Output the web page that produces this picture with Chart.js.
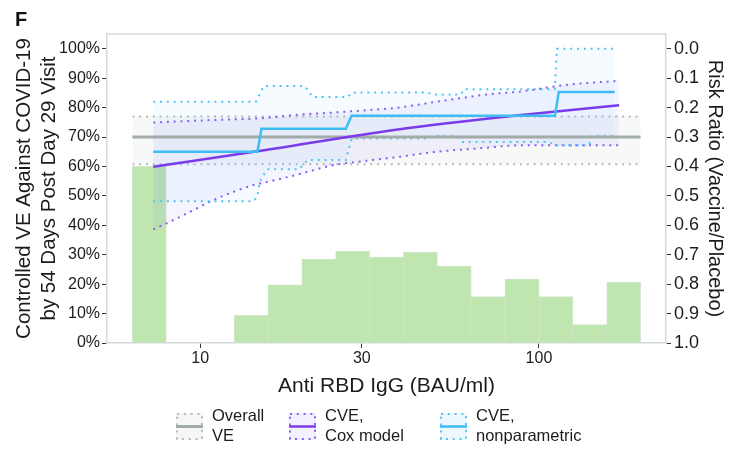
<!DOCTYPE html>
<html lang="en">
<head>
<meta charset="UTF-8">
<title>Controlled VE by Anti RBD IgG</title>
<script src="https://cdn.jsdelivr.net/npm/chart.js"></script>
<style>
    html, body { margin: 0; padding: 0; background: #fff; }
    .wrap { position: relative; width: 742px; height: 449px; }
</style>
</head>
<body>
<div class="wrap"><canvas id="veChart" width="742" height="449"></canvas></div>
<script>
// Histogram of Day 29 antibody levels: bin edges (BAU/ml) and bar heights (%)
const binEdges = [6.31, 7.94, 10.0, 12.59, 15.85, 19.95, 25.12, 31.62, 39.81, 50.12, 63.10, 79.43, 100.0, 125.9, 158.5, 199.5];
const binHeights = [60, 0, 0, 9.4, 19.8, 28.5, 31.2, 29.2, 30.8, 26.1, 15.8, 21.7, 15.8, 6.3, 20.6];

// Overall VE and its confidence limits (%)
const overallVE = 70;
const overallLow = 60.7;
const overallHigh = 77;

// CVE, Cox model
const coxX = [7.27, 15.62, 37.81, 88.47, 172.4];
const coxVE = [59.9, 65.6, 72.5, 77.5, 80.8];
const coxHighX = [7.27, 9.38, 11.73, 14.79, 19.54, 24.63, 30.83, 37.81, 51.34, 72.16, 87.27, 122.6, 172.4];
const coxHigh = [74.9, 75.5, 75.9, 76.3, 77.6, 78.3, 79.1, 79.9, 82.2, 84.6, 85.4, 87.8, 89.1];
const coxLowX = [7.27, 8.35, 9.57, 10.96, 12.56, 14.39, 15.62, 17.89, 20.5, 24.63, 30.83, 37.81, 48.95, 66.04, 88.47, 172.4];
const coxLow = [38.6, 41.8, 45.2, 48.6, 51.4, 53.7, 54.6, 56.2, 58.0, 60.4, 61.9, 63.1, 64.9, 66.1, 67.2, 67.2];

// CVE, nonparametric
const npX = [7.27, 14.76, 15.17, 26.91, 27.98, 111.5, 114.4, 167.3];
const npVE = [65.0, 65.0, 72.8, 72.8, 77.2, 77.2, 85.3, 85.3];
const npHighX = [7.27, 14.6, 15.4, 20.36, 21.49, 27.28, 28.03, 46.99, 48.62, 58.83, 60.04, 111.3, 113.0, 167.3];
const npHigh = [82.0, 82.0, 87.3, 87.3, 83.6, 83.6, 85.1, 85.1, 84.4, 84.4, 86.2, 86.2, 100, 100];
const npLowX = [7.27, 14.39, 14.76, 14.99, 15.75, 19.54, 20.78, 26.91, 28.03, 46.99, 48.62, 56.85, 59.6, 107.0, 113.0, 140.5, 143.4, 167.3];
const npLow = [48.2, 48.2, 49.9, 54.8, 59.0, 59.0, 62.2, 62.2, 69.5, 69.5, 70.3, 70.3, 68.3, 68.3, 67.1, 67.1, 70.3, 70.3];

// Axis ticks
const xTicks = [10, 30, 100];
const veTicks = [0, 10, 20, 30, 40, 50, 60, 70, 80, 90, 100];
const rrTicks = [0, 0.1, 0.2, 0.3, 0.4, 0.5, 0.6, 0.7, 0.8, 0.9, 1.0];

const legendLabels = [['Overall', 'VE'], ['CVE,', 'Cox model'], ['CVE,', 'nonparametric']];

// colours
const barGreen = '#bee6ae';
const grayLine = '#a1aba7';
const grayDots = '#b4bcb8';
const grayFill = 'rgba(190,200,195,0.12)';
const coxLine = '#7c3aed';
const coxDots = '#8b5cf6';
const coxFill = 'rgba(120,100,255,0.07)';
const npLine = '#3dbdf2';
const npDots = '#52c4f2';
const npFill = 'rgba(90,190,250,0.06)';
const panelBorder = '#d3dbd7';

const pts = (xs, ys) => xs.map((x, i) => ({ x: x, y: ys[i] }));
const binCenters = binHeights.map((_, i) => Math.sqrt(binEdges[i] * binEdges[i + 1]));

// log axis padded 5% of the histogram range on each side
const logSpan = Math.log10(binEdges[binEdges.length - 1] / binEdges[0]);
const xMin = binEdges[0] / Math.pow(10, 0.05 * logSpan);
const xMax = binEdges[binEdges.length - 1] * Math.pow(10, 0.05 * logSpan);

const dotted = [2, 4.8];

function bandLine(data, color, fill, bg, order) {
    return {
        type: 'line', data: data, borderColor: color, borderWidth: 2, borderDash: dotted,
        pointRadius: 0, fill: fill, backgroundColor: bg, order: order, tension: 0
    };
}

Chart.defaults.font.family = '"Liberation Sans", Arial, sans-serif';
Chart.defaults.color = '#1c1c1c';

const panelExtras = {
    id: 'panelExtras',
    beforeDatasetsDraw(chart) {
        const { ctx, chartArea: a } = chart;
        ctx.save();
        ctx.strokeStyle = panelBorder;
        ctx.lineWidth = 1.5;
        ctx.beginPath();
        ctx.moveTo(a.left, a.top);
        ctx.lineTo(a.right, a.top);
        ctx.stroke();
        ctx.restore();
    },
    afterDraw(chart) {
        const ctx = chart.ctx;
        ctx.save();
        ctx.fillStyle = '#111';
        ctx.font = 'bold 20px "Liberation Sans", Arial, sans-serif';
        ctx.textBaseline = 'alphabetic';
        ctx.fillText('F', 15, 26);

        // legend: dotted key box with band fill and the centre line
        const keys = [
            { line: grayLine, dots: grayDots, fill: 'rgba(190,200,195,0.16)', width: 3 },
            { line: coxLine, dots: coxDots, fill: 'rgba(120,100,255,0.09)', width: 2.5 },
            { line: npLine, dots: npDots, fill: 'rgba(90,190,250,0.11)', width: 2.5 }
        ];
        const keyX = [176, 289, 440];
        const top = 413, size = 27;
        ctx.font = '16.5px "Liberation Sans", Arial, sans-serif';
        keys.forEach((k, i) => {
            const x = keyX[i];
            ctx.fillStyle = k.fill;
            ctx.fillRect(x, top, size, size);
            ctx.setLineDash(dotted);
            ctx.lineWidth = 2;
            ctx.strokeStyle = k.dots;
            ctx.strokeRect(x + 1, top + 1, size - 2, size - 2);
            ctx.setLineDash([]);
            ctx.lineWidth = k.width;
            ctx.strokeStyle = k.line;
            ctx.beginPath();
            ctx.moveTo(x, top + size / 2);
            ctx.lineTo(x + size, top + size / 2);
            ctx.stroke();
            ctx.fillStyle = '#1c1c1c';
            ctx.fillText(legendLabels[i][0], x + size + 9, 421);
            ctx.fillText(legendLabels[i][1], x + size + 9, 441);
        });
        ctx.restore();
    }
};

new Chart(document.getElementById('veChart'), {
    type: 'line',
    data: {
        datasets: [
            {
                type: 'bar', data: pts(binCenters, binHeights), backgroundColor: barGreen,
                borderColor: 'rgba(150,200,140,0.45)', borderWidth: 1,
                barPercentage: 1, categoryPercentage: 1, order: 10
            },
            bandLine(pts([binEdges[0], binEdges[binEdges.length - 1]], [overallHigh, overallHigh]), grayDots, 2, grayFill, 9),
            bandLine(pts([binEdges[0], binEdges[binEdges.length - 1]], [overallLow, overallLow]), grayDots, false, grayFill, 9),
            Object.assign(bandLine(pts(coxHighX, coxHigh), coxDots, 4, coxFill, 8), { cubicInterpolationMode: 'monotone' }),
            Object.assign(bandLine(pts(coxLowX, coxLow), coxDots, false, coxFill, 8), { cubicInterpolationMode: 'monotone' }),
            bandLine(pts(npHighX, npHigh), npDots, 6, npFill, 7),
            bandLine(pts(npLowX, npLow), npDots, false, npFill, 7),
            {
                data: pts([binEdges[0], binEdges[binEdges.length - 1]], [overallVE, overallVE]),
                borderColor: grayLine, borderWidth: 3, pointRadius: 0, fill: false, order: 3
            },
            {
                data: pts(coxX, coxVE), borderColor: coxLine, borderWidth: 2.5, pointRadius: 0,
                fill: false, cubicInterpolationMode: 'monotone', order: 2
            },
            {
                data: pts(npX, npVE), borderColor: npLine, borderWidth: 2.5, pointRadius: 0,
                fill: false, order: 1
            }
        ]
    },
    options: {
        responsive: false,
        animation: false,
        events: [],
        layout: { padding: { top: 34, bottom: 49, left: 0, right: 0 } },
        plugins: { legend: { display: false }, tooltip: { enabled: false } },
        scales: {
            x: {
                type: 'logarithmic', min: xMin, max: xMax, offset: false,
                afterBuildTicks: s => { s.ticks = xTicks.map(v => ({ value: v })); },
                afterFit: s => { s.height = 57; },
                ticks: { callback: v => String(v), font: { size: 16 }, padding: 1, maxRotation: 0, autoSkip: false },
                grid: { offset: false, drawOnChartArea: false, tickLength: 5, tickColor: '#333', tickWidth: 1 },
                border: { color: panelBorder, width: 1.5 },
                title: {
                    display: true, text: 'Anti RBD IgG (BAU/ml)',
                    font: { size: 21, lineHeight: 1.2 }, padding: { top: 0, bottom: 1.5 }
                }
            },
            y: {
                position: 'left', min: 0, max: 105,
                afterBuildTicks: s => { s.ticks = veTicks.map(v => ({ value: v })); },
                afterFit: s => { s.width = 107; },
                ticks: { callback: v => v + '%', font: { size: 16 }, padding: 2 },
                grid: { drawOnChartArea: false, tickLength: 5, tickColor: '#333', tickWidth: 1 },
                border: { color: panelBorder, width: 1.5 },
                title: {
                    display: true,
                    text: ['Controlled VE Against COVID-19', 'by 54 Days Post Day 29 Visit'],
                    font: { size: 20.5, lineHeight: 1.2 }, padding: { top: 12, bottom: 0 }
                }
            },
            y2: {
                position: 'right', min: -0.05, max: 1, reverse: true,
                afterBuildTicks: s => { s.ticks = rrTicks.map(v => ({ value: v })); },
                afterFit: s => { s.width = 76; },
                ticks: { callback: v => v.toFixed(1), font: { size: 18 }, padding: 3 },
                grid: { drawOnChartArea: false, tickLength: 5, tickColor: '#333', tickWidth: 1 },
                border: { color: panelBorder, width: 1.5 },
                title: {
                    display: true, text: 'Risk Ratio (Vaccine/Placebo)',
                    font: { size: 20, lineHeight: 1.2 }, padding: { top: 15, bottom: 0 }
                }
            }
        }
    },
    plugins: [panelExtras]
});
</script>
</body>
</html>
